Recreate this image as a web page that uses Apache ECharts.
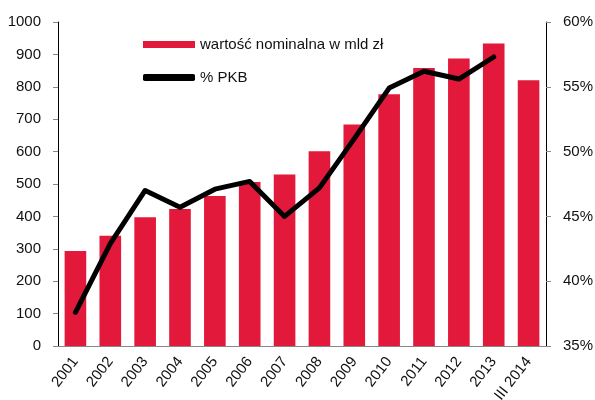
<!DOCTYPE html>
<html>
<head>
<meta charset="utf-8">
<script src="https://cdn.jsdelivr.net/npm/echarts@6/dist/echarts.min.js"></script>
<style>
  html, body { margin: 0; padding: 0; background: #fff; }
  #chart { width: 595px; height: 400px; }
</style>
</head>
<body>
<div id="chart"></div>
<script>
// kategorie (lata)
var years = ['2001', '2002', '2003', '2004', '2005', '2006', '2007', '2008', '2009', '2010', '2011', '2012', '2013', 'III 2014'];
// wartość nominalna w mld zł
var nominal = [293, 340, 397, 423, 463, 506, 529, 601, 684, 777, 858, 887, 934, 820];
// % PKB
var pkb = [37.6, 42.9, 47.0, 45.7, 47.1, 47.7, 45.0, 47.2, 51.0, 54.9, 56.2, 55.6, 57.3, null];

var FONT = '"Liberation Sans", Arial, sans-serif';

var chart = echarts.init(document.getElementById('chart'), null, {renderer: 'canvas'});

chart.setOption({
    animation: false,
    textStyle: {fontFamily: FONT},
    grid: {left: 58, right: 49, top: 22, bottom: 54, containLabel: false, outerBoundsMode: 'none'},
    legend: {
        orient: 'vertical',
        left: 143,
        top: 37,
        padding: 0,
        itemWidth: 52,
        itemHeight: 7,
        itemGap: 18,
        textStyle: {fontFamily: FONT, fontSize: 15, color: '#111'},
        data: [
            {name: 'wartość nominalna w mld zł', icon: 'rect'},
            {name: '% PKB', icon: 'roundRect'}
        ]
    },
    xAxis: {
        type: 'category',
        data: years,
        axisLine: {lineStyle: {color: '#888', width: 1}},
        axisTick: {alignWithLabel: false, length: 5, lineStyle: {color: '#888'}},
        axisLabel: {rotate: 52, fontSize: 15, color: '#111', margin: 13, fontFamily: FONT}
    },
    yAxis: [{
        type: 'value',
        min: 0,
        max: 1000,
        interval: 100,
        splitLine: {show: false},
        axisLine: {show: true, lineStyle: {color: '#000', width: 1}},
        axisTick: {show: true, length: 5, lineStyle: {color: '#888'}},
        axisLabel: {fontSize: 15, color: '#111', margin: 17, fontFamily: FONT,
            formatter: function (v) { return String(v); }}
    }, {
        type: 'value',
        min: 35,
        max: 60,
        interval: 5,
        position: 'right',
        splitLine: {show: false},
        axisLine: {show: true, lineStyle: {color: '#000', width: 1}},
        axisTick: {show: true, length: 5, lineStyle: {color: '#888'}},
        axisLabel: {fontSize: 15, color: '#111', margin: 17, fontFamily: FONT, formatter: '{value}%'}
    }],
    series: [{
        name: 'wartość nominalna w mld zł',
        type: 'bar',
        data: nominal,
        barCategoryGap: '38%',
        itemStyle: {color: '#E2193A'}
    }, {
        name: '% PKB',
        type: 'line',
        yAxisIndex: 1,
        data: pkb,
        showSymbol: false,
        symbol: 'none',
        itemStyle: {color: '#000'},
        lineStyle: {color: '#000', width: 5, cap: 'round', join: 'round'}
    }]
});
</script>
</body>
</html>
